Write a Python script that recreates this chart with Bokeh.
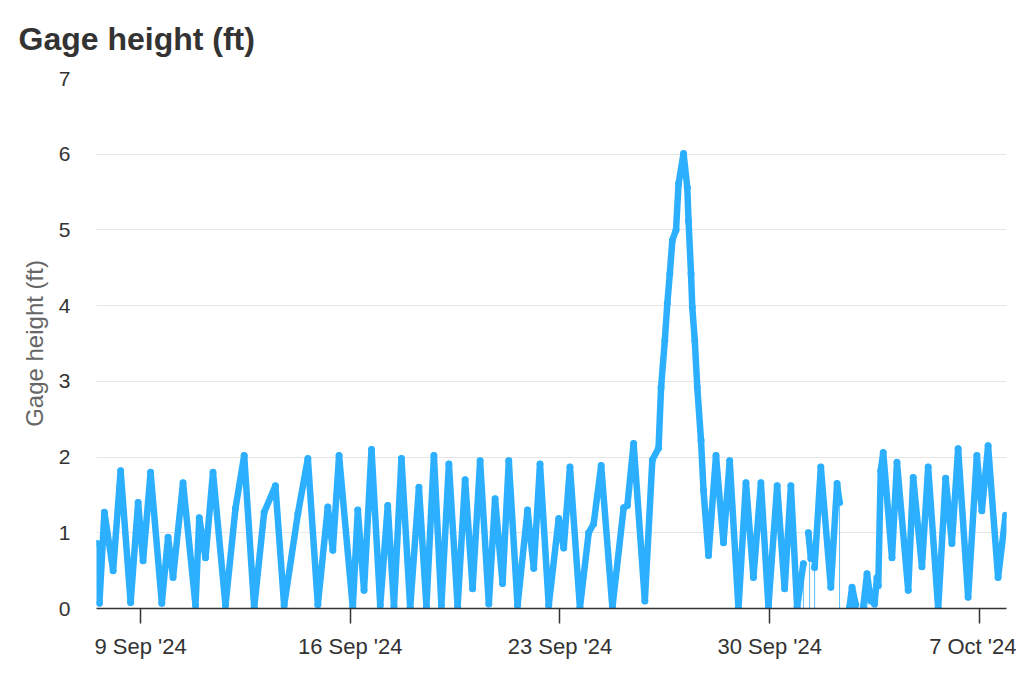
import numpy as np
import pandas as pd
from bokeh.plotting import figure
from bokeh.models import Range1d, FixedTicker, ColumnDataSource
from bokeh.embed import file_html
from bokeh.resources import INLINE

# Tide turning points (None = gap in record)
times = [
    "2024-09-07 13:00", "2024-09-07 15:00", "2024-09-07 19:00", "2024-09-08 02:00",
    "2024-09-08 08:00", "2024-09-08 16:00", "2024-09-08 22:00", "2024-09-09 02:00",
    "2024-09-09 08:00", "2024-09-09 17:00", "2024-09-09 22:00", "2024-09-10 02:00",
    "2024-09-10 10:00", "2024-09-10 20:00", "2024-09-10 23:00", "2024-09-11 04:00",
    "2024-09-11 10:00", "2024-09-11 20:00", "2024-09-12 04:00", "2024-09-12 11:00",
    "2024-09-12 19:00", "2024-09-13 03:00", "2024-09-13 12:00", "2024-09-13 19:00",
    "2024-09-14 06:00", "2024-09-14 14:00", "2024-09-14 22:00", "2024-09-15 06:00",
    "2024-09-15 10:00", "2024-09-15 15:00", "2024-09-16 02:00", "2024-09-16 06:00",
    "2024-09-16 11:00", "2024-09-16 17:00", "2024-09-17 00:00", "2024-09-17 06:00",
    "2024-09-17 11:00", "2024-09-17 17:00", "2024-09-18 00:00", "2024-09-18 07:00",
    "2024-09-18 13:00", "2024-09-18 19:00", "2024-09-19 01:00", "2024-09-19 07:00",
    "2024-09-19 14:00", "2024-09-19 20:00", "2024-09-20 02:00", "2024-09-20 08:00",
    "2024-09-20 15:00", "2024-09-20 20:00", "2024-09-21 02:00", "2024-09-21 07:00",
    "2024-09-21 14:00", "2024-09-21 22:00", "2024-09-22 03:00", "2024-09-22 08:00",
    "2024-09-22 15:00", "2024-09-22 23:00", "2024-09-23 03:00", "2024-09-23 08:00",
    "2024-09-23 16:00", "2024-09-23 23:00", "2024-09-24 03:00", "2024-09-24 09:00",
    "2024-09-24 18:00", "2024-09-25 03:00", "2024-09-25 06:00", "2024-09-25 11:00",
    "2024-09-25 20:00", "2024-09-26 02:00", "2024-09-26 07:00", "2024-09-26 09:00",
    "2024-09-26 12:00", "2024-09-26 14:00", "2024-09-26 16:00", "2024-09-26 18:00",
    "2024-09-26 21:00", "2024-09-26 23:00", "2024-09-27 03:00", "2024-09-27 06:00",
    "2024-09-27 07:00", "2024-09-27 09:00", "2024-09-27 10:00", "2024-09-27 12:00",
    "2024-09-27 14:00", "2024-09-27 17:00", "2024-09-27 19:00", "2024-09-27 23:00",
    "2024-09-28 05:00", "2024-09-28 11:00", "2024-09-28 16:00", "2024-09-28 23:00",
    "2024-09-29 05:00", "2024-09-29 11:00", "2024-09-29 17:00", "2024-09-29 23:00",
    "2024-09-30 06:00", "2024-09-30 12:00", "2024-09-30 17:00", "2024-09-30 22:00",
    "2024-10-01 03:00", "2024-10-01 05:00", "2024-10-01 07:00", "2024-10-01 09:00",
    "2024-10-01 10:30", "2024-10-01 12:00", "2024-10-01 17:00", "2024-10-02 01:00",
    "2024-10-02 06:00", "2024-10-02 08:00", "2024-10-02 12:00", "2024-10-02 16:00",
    "2024-10-02 18:00", "2024-10-02 21:00", "2024-10-03 00:00", "2024-10-03 03:00",
    "2024-10-03 06:00", "2024-10-03 09:00", "2024-10-03 10:30", "2024-10-03 12:00",
    "2024-10-03 14:00", "2024-10-03 15:00", "2024-10-03 17:00", "2024-10-03 19:00",
    "2024-10-04 02:00", "2024-10-04 06:00", "2024-10-04 15:00", "2024-10-04 19:00",
    "2024-10-05 02:00", "2024-10-05 07:00", "2024-10-05 15:00", "2024-10-05 21:00",
    "2024-10-06 02:00", "2024-10-06 07:00", "2024-10-06 15:00", "2024-10-06 22:00",
    "2024-10-07 02:00", "2024-10-07 07:00", "2024-10-07 15:00", "2024-10-07 21:00",
]
gage_ft = [
    0.86, 0.07, 1.27, 0.50,
    1.82, 0.08, 1.40, 0.63,
    1.80, 0.07, 0.94, 0.41,
    1.66, 0.04, 1.20, 0.67,
    1.80, 0.04, 1.32, 2.02,
    0.01, 1.27, 1.62, 0.04,
    1.25, 1.98, 0.05, 1.34,
    0.77, 2.02, 0.01, 1.30,
    0.24, 2.10, 0.04, 1.36,
    0.03, 1.98, 0.01, 1.60,
    0.03, 2.02, 0.04, 1.91,
    0.03, 1.70, 0.26, 1.95,
    0.06, 1.45, 0.33, 1.95,
    0.04, 1.30, 0.53, 1.91,
    0.04, 1.19, 0.80, 1.87,
    0.01, 1.00, 1.12, 1.89,
    0.01, 1.33, 1.36, 2.18,
    0.10, 1.96, 2.12, 2.92,
    3.54, 4.03, 4.42, 4.86,
    5.00, 5.61, 6.01, 5.56,
    5.12, 4.42, 3.98, 3.54,
    2.92, 2.22, 1.56, 0.70,
    2.02, 0.87, 1.95, 0.00,
    1.66, 0.41, 1.66, 0.03,
    1.62, 0.26, 1.62, 0.02,
    0.59, None, 1.00, 0.66,
    None, 0.54, 1.87, 0.28,
    1.65, 1.40, None, 0.02,
    0.28, 0.05, None, 0.02,
    0.46, 0.10, None, 0.06,
    0.41, 0.30, 1.82, 2.06,
    0.67, 1.93, 0.24, 1.73,
    0.55, 1.87, 0.00, 1.72,
    0.86, 2.11, 0.15, 2.02,
    1.29, 2.15, 0.41, 1.23,
]

# thin drop lines seen in the record
spike_times = ["2024-10-01 03:00", "2024-10-01 08:00", "2024-10-01 12:00",
               "2024-10-02 08:00", "2024-10-03 06:00", "2024-10-03 13:00"]
spike_ft = [0.45, 0.66, 0.54, 1.40, 0.30, 0.30]

tick_dates = ["2024-09-09", "2024-09-16", "2024-09-23", "2024-09-30", "2024-10-07"]
tick_labels = ["9 Sep '24", "16 Sep '24", "23 Sep '24", "30 Sep '24", "7 Oct '24"]
y_ticks = [0, 1, 2, 3, 4, 5, 6, 7]

BLUE = "#2caffe"
FONT = "Liberation Sans"

t = pd.to_datetime(times)
v = np.array([np.nan if x is None else x for x in gage_ft], dtype=float)
src = ColumnDataSource(dict(t=t, v=v))

st = pd.to_datetime(spike_times)
ssrc = ColumnDataSource(dict(t=st, v=spike_ft, z=[0] * len(spike_ft)))

x_start = t[0] - pd.Timedelta(minutes=20)
x_end = t[-1] + pd.Timedelta(minutes=45)

p = figure(width=1016, height=675, x_axis_type="datetime",
           output_backend="svg", toolbar_location=None,
           x_range=Range1d(x_start, x_end), y_range=Range1d(0, 7),
           min_border_left=96, min_border_right=10,
           min_border_top=78, min_border_bottom=67)

p.title.text = "Gage height (ft)"
p.title.align = "left"
p.title.offset = -78
p.title.text_font = FONT
p.title.text_font_size = "32px"
p.title.text_font_style = "bold"
p.title.text_color = "#333333"
p.title.standoff = 40
p.title.vertical_align = "top"

p.outline_line_color = None
p.background_fill_color = "white"
p.border_fill_color = "white"

p.xgrid.grid_line_color = None
p.ygrid.grid_line_color = "#e6e6e6"
p.ygrid.grid_line_width = 1.2
p.ygrid.ticker = FixedTicker(ticks=y_ticks)

p.yaxis.ticker = FixedTicker(ticks=y_ticks)
p.yaxis.axis_line_color = None
p.yaxis.major_tick_line_color = None
p.yaxis.minor_tick_line_color = None
p.yaxis.major_label_standoff = 20
p.yaxis.major_label_text_font = FONT
p.yaxis.major_label_text_font_size = "21px"
p.yaxis.major_label_text_color = "#333333"
p.yaxis.axis_label = "Gage height (ft)"
p.yaxis.axis_label_text_font = FONT
p.yaxis.axis_label_text_font_size = "24px"
p.yaxis.axis_label_text_font_style = "normal"
p.yaxis.axis_label_text_color = "#666666"
p.yaxis.axis_label_standoff = 8

tick_ms = [int(pd.Timestamp(d).value // 10**6) for d in tick_dates]
p.xaxis.ticker = FixedTicker(ticks=tick_ms)
p.xaxis.major_label_overrides = {ms: lab for ms, lab in zip(tick_ms, tick_labels)}
p.xaxis.axis_line_color = "#333333"
p.xaxis.axis_line_width = 1.5
p.xaxis.major_tick_line_color = "#333333"
p.xaxis.major_tick_line_width = 1.5
p.xaxis.major_tick_out = 15
p.xaxis.major_tick_in = 0
p.xaxis.minor_tick_line_color = None
p.xaxis.major_label_standoff = 10
p.xaxis.major_label_text_font = FONT
p.xaxis.major_label_text_font_size = "22px"
p.xaxis.major_label_text_color = "#333333"

p.segment(x0="t", y0="v", x1="t", y1="z", source=ssrc,
          line_color=BLUE, line_width=1, line_alpha=0.8)
p.line(x="t", y="v", source=src, line_color=BLUE, line_width=6.5,
       line_join="round", line_cap="round")
p.scatter(x="t", y="v", source=src, size=7, fill_color=BLUE, line_color=None)

open("out.html", "w").write(file_html(p, INLINE))
